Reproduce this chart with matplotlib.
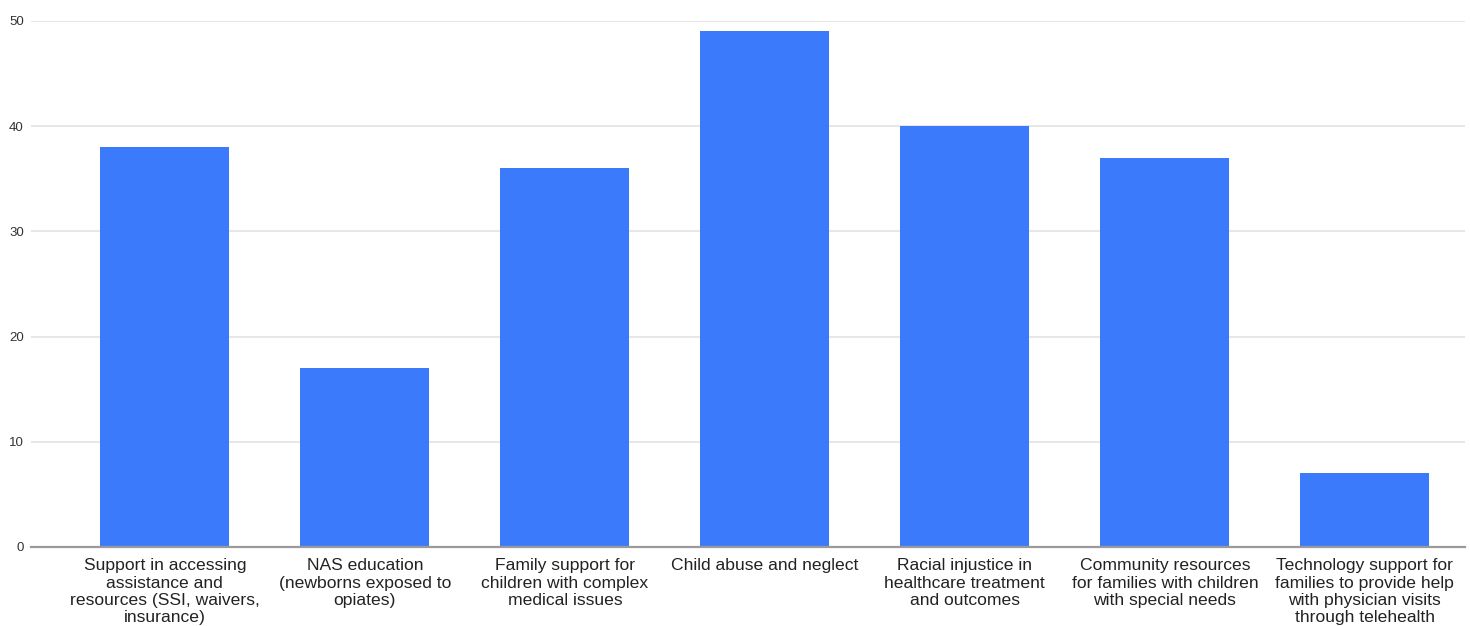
import matplotlib.pyplot as plt
import numpy as np

plt.rcParams['font.family'] = ['Liberation Sans', 'DejaVu Sans']

categorias = [
    "Support in accessing\nassistance and\nresources (SSI, waivers,\ninsurance)",
    "NAS education\n(newborns exposed to\nopiates)",
    "Family support for\nchildren with complex\nmedical issues",
    "Child abuse and neglect",
    "Racial injustice in\nhealthcare treatment\nand outcomes",
    "Community resources\nfor families with children\nwith special needs",
    "Technology support for\nfamilies to provide help\nwith physician visits\nthrough telehealth",
]
valores = [38, 17, 36, 49, 40, 37, 7]
ticks_y = [0, 10, 20, 30, 40, 50]

def main():
    fig = plt.figure(figsize=(14.7, 6.26), dpi=100)
    ax = fig.add_axes([0.021, 0.1262, 0.9755, 0.8403])

    x = np.arange(len(categorias))
    ax.bar(x, valores, width=0.645, color="#3b7bfb", zorder=3)

    ax.set_xlim(-0.67, 6.5)
    ax.set_ylim(0, 50)
    ax.set_yticks(ticks_y)
    ax.set_yticklabels([str(t) for t in ticks_y], fontsize=9.5, color="#333333")
    ax.set_xticks(x)
    ax.set_xticklabels(categorias, fontsize=12.6, color="#222222", linespacing=1.2,
                       va="top")

    ax.grid(axis="y", color="#e3e3e3", linewidth=1.2, zorder=0)
    for lado in ["top", "right", "left"]:
        ax.spines[lado].set_visible(False)
    ax.spines["bottom"].set_color("#9a9a9a")
    ax.spines["bottom"].set_linewidth(1.6)
    ax.spines["bottom"].set_zorder(4)
    ax.tick_params(axis="both", length=0)
    ax.tick_params(axis="y", pad=5)
    ax.tick_params(axis="x", pad=8)

    fig.savefig("out.png", dpi=100)

main()
